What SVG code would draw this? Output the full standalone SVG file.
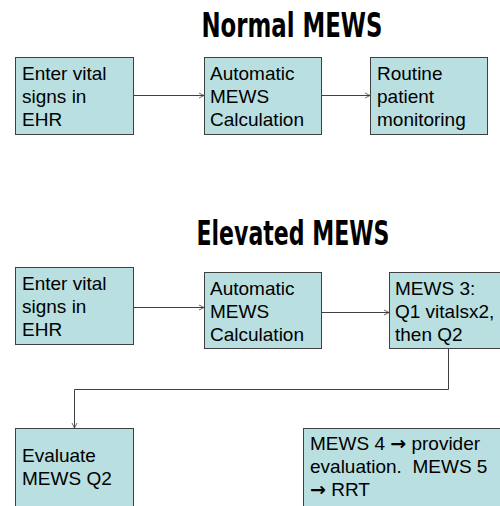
<svg xmlns="http://www.w3.org/2000/svg" width="500" height="506" viewBox="0 0 500 506">
<defs>
<marker id="ah" markerWidth="8" markerHeight="8" refX="6" refY="4" orient="auto" markerUnits="userSpaceOnUse">
<path d="M1,1.5 L6,4 L1,6.5" fill="none" stroke="#404040" stroke-width="0.8"/>
</marker>
<style>
.box{fill:#B9DFE1;stroke:#404040;stroke-width:1}
.t{font-family:"Liberation Sans",Arial,sans-serif;font-size:19px;fill:#000;white-space:pre}
.ar{font-family:"DejaVu Sans",sans-serif;font-weight:bold}
.title{font-family:"DejaVu Sans Condensed","Liberation Sans Narrow","Liberation Sans",sans-serif;font-weight:bold;font-size:34px;fill:#000;text-anchor:middle}
.c{fill:none;stroke:#404040;stroke-width:1;marker-end:url(#ah)}
</style>
</defs>
<rect width="500" height="506" fill="#fff"/>
<text class="title" x="292" y="37" textLength="181" lengthAdjust="spacingAndGlyphs">Normal MEWS</text>
<text class="title" x="293" y="245" textLength="193" lengthAdjust="spacingAndGlyphs">Elevated MEWS</text>
<g id="n1">
<rect class="box" x="15.5" y="57.5" width="118" height="77"/>
<text class="t" x="22" y="80">Enter vital</text>
<text class="t" x="22" y="103">signs in</text>
<text class="t" x="22" y="126">EHR</text>
</g>
<g id="n2">
<rect class="box" x="204.5" y="57.5" width="117" height="77"/>
<text class="t" x="210" y="80">Automatic</text>
<text class="t" x="210" y="103">MEWS</text>
<text class="t" x="210" y="126">Calculation</text>
</g>
<g id="n3">
<rect class="box" x="370.5" y="57.5" width="117" height="77"/>
<text class="t" x="377" y="80">Routine</text>
<text class="t" x="377" y="103">patient</text>
<text class="t" x="377" y="126">monitoring</text>
</g>
<g id="e1">
<rect class="box" x="15.5" y="267.5" width="118" height="77"/>
<text class="t" x="22" y="290">Enter vital</text>
<text class="t" x="22" y="313">signs in</text>
<text class="t" x="22" y="336">EHR</text>
</g>
<g id="e2">
<rect class="box" x="204.5" y="272.5" width="117" height="76"/>
<text class="t" x="210" y="295">Automatic</text>
<text class="t" x="210" y="318">MEWS</text>
<text class="t" x="210" y="341">Calculation</text>
</g>
<g id="e3">
<rect class="box" x="389.5" y="272.5" width="115" height="76"/>
<text class="t" x="395" y="295">MEWS 3:</text>
<text class="t" x="395" y="318">Q1 vitalsx2,</text>
<text class="t" x="395" y="341">then Q2</text>
</g>
<g id="e4">
<rect class="box" x="15.5" y="428.5" width="118" height="85"/>
<text class="t" x="22" y="462">Evaluate</text>
<text class="t" x="22" y="485">MEWS Q2</text>
</g>
<g id="e5">
<rect class="box" x="303.5" y="428.5" width="200" height="85"/>
<text class="t" x="310" y="450">MEWS 4 <tspan class="ar">→</tspan> provider</text>
<text class="t" x="310" y="473">evaluation.  MEWS 5</text>
<text class="t" x="310" y="496"><tspan class="ar">→</tspan> RRT</text>
</g>
<g id="connectors">
<path class="c" d="M133.5,95.5 H204"/>
<path class="c" d="M321.5,95.5 H370"/>
<path class="c" d="M133.5,307.5 H204"/>
<path class="c" d="M321.5,312.5 H389"/>
<path class="c" d="M448.5,348.5 V389.5 H74.5 V428"/>
</g>
</svg>
